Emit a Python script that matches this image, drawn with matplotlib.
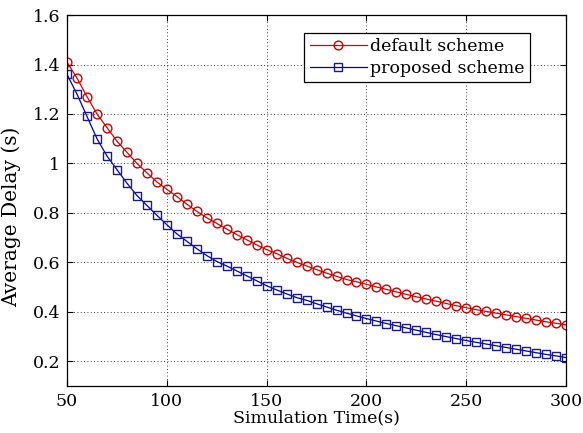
import numpy as np
import matplotlib
matplotlib.use('Agg')
import matplotlib.pyplot as plt

# simulation time (s)
sim_time = list(range(50, 301, 5))

# average delay (s)
default_delay = [1.41, 1.345, 1.27, 1.20, 1.145, 1.09, 1.045, 1.0, 0.962, 0.925,
                 0.895, 0.866, 0.835, 0.806, 0.78, 0.757, 0.734, 0.712, 0.691, 0.67,
                 0.651, 0.635, 0.616, 0.6, 0.585, 0.57, 0.556, 0.543, 0.53, 0.521,
                 0.511, 0.5, 0.49, 0.48, 0.47, 0.46, 0.451, 0.442, 0.433, 0.424,
                 0.416, 0.408, 0.401, 0.394, 0.387, 0.38, 0.373, 0.366, 0.359, 0.353,
                 0.347]
proposed_delay = [1.36, 1.28, 1.19, 1.10, 1.03, 0.975, 0.92, 0.87, 0.83, 0.79,
                  0.752, 0.715, 0.685, 0.655, 0.627, 0.603, 0.585, 0.565, 0.545, 0.525,
                  0.505, 0.488, 0.472, 0.457, 0.446, 0.432, 0.419, 0.406, 0.394, 0.383,
                  0.372, 0.362, 0.352, 0.343, 0.334, 0.325, 0.316, 0.307, 0.299, 0.291,
                  0.283, 0.276, 0.269, 0.262, 0.255, 0.248, 0.241, 0.234, 0.227, 0.221,
                  0.214]

x_ticks = [50, 100, 150, 200, 250, 300]
y_ticks = [0.2, 0.4, 0.6, 0.8, 1.0, 1.2, 1.4, 1.6]
y_tick_labels = ['0.2', '0.4', '0.6', '0.8', '1', '1.2', '1.4', '1.6']

plt.rcParams['font.family'] = ['DejaVu Serif']

fig = plt.figure(figsize=(5.83, 4.33), dpi=100)
ax = fig.add_axes([0.115, 0.109, 0.856, 0.856])

ax.plot(sim_time, default_delay, color='#dd0000', lw=0.9, marker='o', ms=6.3,
        mfc='none', mec='#cc0000', mew=1.0, label='default scheme')
ax.plot(sim_time, proposed_delay, color='#0000bb', lw=0.9, marker='s', ms=6.3,
        mfc='none', mec='#1a1a8c', mew=1.0, label='proposed scheme')

ax.set_xlim(50, 300)
ax.set_ylim(0.1, 1.6)
ax.set_xticks(x_ticks)
ax.set_yticks(y_ticks)
ax.set_yticklabels(y_tick_labels)
ax.tick_params(direction='in', labelsize=12.5, length=4, top=True, right=True,
               labeltop=False, labelright=False, pad=5)
ax.grid(True, color='black', linestyle=(0, (1, 3)), linewidth=0.6)
for s in ax.spines.values():
    s.set_linewidth(0.9)

ax.set_xlabel('Simulation Time(s)', fontsize=12.5, labelpad=0)
ax.set_ylabel('Average Delay (s)', fontsize=14.5)
ax.yaxis.set_label_coords(-0.092, 0.455)

leg = ax.legend(loc='upper right', bbox_to_anchor=(0.928, 0.953), fontsize=12.5,
                fancybox=False, edgecolor='black', framealpha=1,
                handlelength=3.3, borderpad=0.3, labelspacing=0.3,
                handletextpad=0.2, borderaxespad=0)
leg.get_frame().set_linewidth(0.9)

plt.savefig('out.png', dpi=100)
plt.close()
